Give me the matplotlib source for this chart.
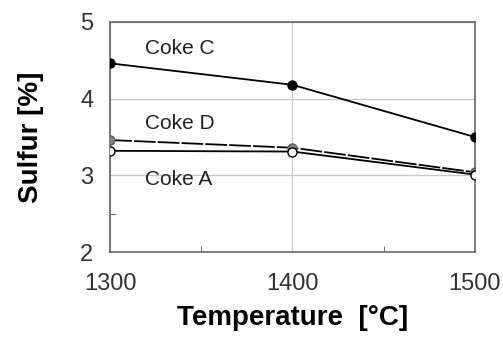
import matplotlib.pyplot as plt
import numpy as np

plt.rcParams['font.family'] = ['Liberation Sans', 'DejaVu Sans']

temps = [1300, 1400, 1500]
coke_c = [4.46, 4.18, 3.50]
coke_d = [3.46, 3.36, 3.04]
coke_a = [3.32, 3.31, 3.01]

fig = plt.figure(figsize=(5.03, 3.37), dpi=100)
ax = fig.add_axes([0.219, 0.252, 0.725, 0.683])

ax.plot(temps, coke_c, '-', color='black', lw=1.3, marker='o', ms=6.5,
        mfc='black', mec='black', zorder=3)
# Coke D: almost solid, fine dashes
ax.plot(temps, coke_d, '--', dashes=(12, 1.2), color='black', lw=1.3, marker='o', ms=6.5,
        mfc='#808080', mec='#606060', zorder=3)
ax.plot(temps, coke_a, '-', color='black', lw=1.3, marker='o', ms=6.5,
        mfc='white', mec='black', zorder=4)

ax.set_xlim(1300, 1500)
ax.set_ylim(2, 5)
ax.set_xticks([1300, 1400, 1500])
ax.set_yticks([2, 3, 4, 5])
ax.set_xticks([1350, 1450], minor=True)
ax.set_yticks([2.5], minor=True)
ax.tick_params(which='major', length=0, labelsize=17, colors='#333333')
ax.tick_params(axis='x', which='major', pad=15)
ax.tick_params(axis='y', which='major', pad=12)
ax.tick_params(which='minor', direction='in', length=4, color='#555555')
ax.grid(True, which='major', color='#c8c8c8', lw=0.9)

for s in ax.spines.values():
    s.set_color('#666666')
    s.set_linewidth(1.2)

ax.text(1319, 4.65, 'Coke C', fontsize=15, color='#222222', va='center')
ax.text(1319, 3.68, 'Coke D', fontsize=15, color='#222222', va='center')
ax.text(1319, 2.95, 'Coke A', fontsize=15, color='#222222', va='center')

ax.set_xlabel('Temperature  [°C]', fontsize=20, fontweight='bold', labelpad=7)
ax.set_ylabel('Sulfur [%]', fontsize=20, fontweight='bold', labelpad=26)

fig.savefig('out.png', dpi=100)
